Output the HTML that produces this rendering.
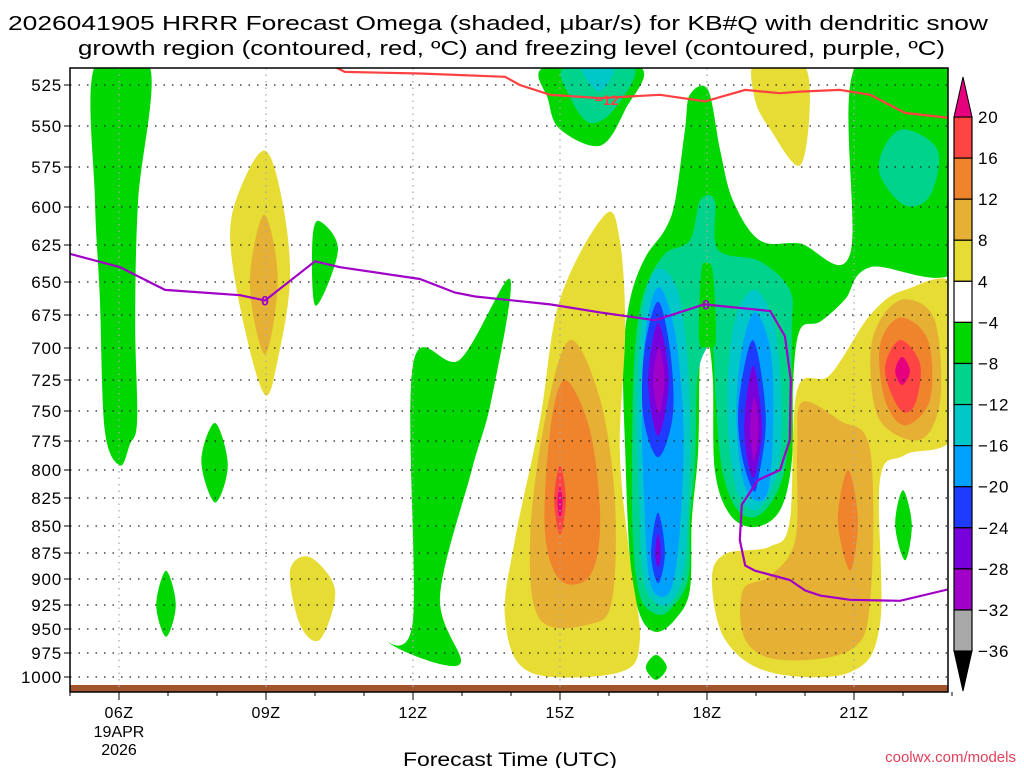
<!DOCTYPE html>
<html><head><meta charset="utf-8"><style>
html,body{margin:0;padding:0;background:#fff;}
svg{display:block;font-family:"Liberation Sans",sans-serif;}
</style></head><body>
<svg id="chart" width="1024" height="768" viewBox="0 0 1024 768" xmlns="http://www.w3.org/2000/svg">
<text x="8" y="30" font-size="20" textLength="980" lengthAdjust="spacingAndGlyphs">2026041905 HRRR Forecast Omega (shaded, μbar/s) for KB#Q with dendritic snow</text>
<text x="78" y="55" font-size="20" textLength="867" lengthAdjust="spacingAndGlyphs">growth region (contoured, red, ºC) and freezing level (contoured, purple, ºC)</text>
<defs><clipPath id="plotclip"><rect x="70" y="68" width="878" height="624"/></clipPath></defs>
<g id="fills" clip-path="url(#plotclip)"></g>
<g id="grid"></g>
<g id="lines" clip-path="url(#plotclip)"></g>
<rect x="70" y="68" width="878" height="624" fill="none" stroke="#000" stroke-width="1.5"/>
<g id="axes"></g>
<g id="cbar"></g>
<text x="403" y="766" font-size="19" textLength="214" lengthAdjust="spacingAndGlyphs">Forecast Time (UTC)</text>
<text x="1016" y="762" text-anchor="end" font-size="15" fill="#e0405a">coolwx.com/models</text>
</svg>
<script>
const NS="http://www.w3.org/2000/svg";
const pTicks=[525,550,575,600,625,650,675,700,725,750,775,800,825,850,875,900,925,950,975,1000];
const yTickPos=[85,126,167,207,245,282,315,348,380,411,441,470,498,526,553,579,605,629,653,677];
function X(h){return 119+(h-6)*49;}
function Y(p){
 if(p<=pTicks[0]) return yTickPos[0]-(pTicks[0]-p)*(41/25);
 for(let i=0;i<pTicks.length-1;i++){
  if(p<=pTicks[i+1]) return yTickPos[i]+(p-pTicks[i])/25*(yTickPos[i+1]-yTickPos[i]);
 }
 return yTickPos[yTickPos.length-1]+(p-1000)*(24/25);
}
const hTicks=[6,9,12,15,18,21];
const hTickLabels=["06Z","09Z","12Z","15Z","18Z","21Z"];
const cbLevels=["20","16","12","8","4","-4","-8","-12","-16","-20","-24","-28","-32","-36"];
const cbColors=["#ff4444","#f0842c","#e6b034","#e6dc34","#ffffff","#00d700","#00d48c","#00c8c8","#00a0ff","#1e3cff","#7800dc","#a000c8","#a8a8a8"];
const C={m:"#e6007e",r:"#ff4444",o:"#f0842c",lo:"#e6b034",y:"#e6dc34",w:"#ffffff",g:"#00d700",t:"#00d48c",c:"#00c8c8",lb:"#00a0ff",b:"#1e3cff",p:"#7800dc",pm:"#a000c8"};
const greenLeft=[[5.5,514],[6.63,514],[6.39,596],[6.33,679],[6.37,758],[6.22,778],[6.02,796],[5.71,766],[5.61,663],[5.51,596]];
const greenDiamond8=[[7.96,760],[8.22,796],[7.96,829],[7.68,792]];
const greenDiamond7=[[6.96,892],[7.16,925],[6.96,958],[6.76,925]];
const greenDiamond10=[[10.06,609],[10.47,628],[10.02,668],[9.94,628]];
const greenMid=[[13.98,648],[13.6,741],[13.2,800],[12.55,917],[12.95,987],[11.5,964],[12.0,940],[12.0,713],[12.96,709]];
const greenTop=[[14.69,514],[16.63,514],[16.33,540],[15.82,562],[15.0,552],[14.76,534]];
const tealTop=[[15.1,514],[16.5,514],[16.1,540],[15.6,548],[15.2,532]];
const cyanTop=[[15.45,514],[16.1,514],[15.8,529]];
const greenBig=[[17.65,531],[18.02,528],[18.27,565],[18.53,596],[19.08,622],[19.9,624],[20.92,631],[21.02,514],[22.92,510],[23.2,637],[21.33,640],[20.82,663],[20.31,680],[19.9,686],[19.76,725],[19.73,792],[19.49,836],[18.98,851],[18.47,840],[18.16,800],[18.12,725],[18.02,696],[17.86,709],[17.82,783],[17.69,845],[17.65,911],[17.35,940],[16.96,953],[16.63,935],[16.43,882],[16.33,783],[16.29,709],[16.43,663],[16.73,634],[17.14,615],[17.35,596],[17.55,552]];
const tealCols=[[17.86,596],[18.16,596],[18.22,628],[19.08,636],[19.69,656],[19.73,686],[19.69,758],[19.53,809],[19.08,840],[18.63,836],[18.31,800],[18.18,741],[18.12,701],[17.98,701],[17.8,725],[17.76,792],[17.65,845],[17.61,901],[17.24,930],[16.94,934],[16.63,916],[16.49,863],[16.47,783],[16.53,701],[16.73,656],[17.14,631],[17.65,622]];
const greenStrip=[[17.98,637],[18.12,644],[18.18,694],[18.02,699],[17.84,694],[17.88,644]];
const tealRight=[[22.04,552],[22.71,565],[22.55,593],[22.04,599],[21.53,580],[21.63,562]];
const cyanL=[[17.04,641],[17.45,663],[17.65,741],[17.61,845],[17.49,901],[17.14,926],[16.73,906],[16.63,845],[16.57,741],[16.73,663]];
const cyanR=[[18.98,656],[19.39,686],[19.53,758],[19.39,809],[18.98,836],[18.57,813],[18.41,741],[18.57,679]];
const lblueL=[[17.02,654],[17.35,689],[17.52,764],[17.45,851],[17.3,905],[17.06,917],[16.82,899],[16.72,829],[16.67,754],[16.75,686]];
const lblueR=[[18.98,673],[19.3,703],[19.35,764],[19.25,818],[18.98,827],[18.72,807],[18.6,754],[18.7,703]];
const blueL=[[17.0,665],[17.25,703],[17.3,754],[17.0,789],[16.7,754],[16.72,703]];
const blueL2=[[17.0,838],[17.14,875],[17.0,904],[16.86,875]];
const blueR=[[18.94,694],[19.2,754],[19.05,807],[18.94,818],[18.7,785],[18.65,743]];
const purpL=[[17.0,681],[17.22,725],[17.0,771],[16.8,725]];
const purpL2=[[17.0,857],[17.06,875],[17.0,889],[16.94,875]];
const purpR=[[18.94,714],[19.12,764],[18.94,807],[18.76,764]];
const pmL=[[17.02,699],[17.13,725],[17.02,752],[16.9,725]];
const pmR=[[18.96,739],[19.05,764],[18.96,792],[18.88,764]];
const yel09=[[8.98,565],[9.33,596],[9.49,648],[9.24,709],[8.98,737],[8.57,686],[8.27,622],[8.47,589]];
const lo09=[[8.96,605],[9.24,648],[8.98,705],[8.67,651]];
const yel10=[[9.9,879],[10.41,911],[10.1,961],[9.69,945],[9.49,892]];
const yel15=[[15.92,605],[16.22,622],[16.33,686],[16.22,783],[16.43,882],[16.63,961],[16.22,995],[14.39,995],[13.88,940],[14.08,863],[14.59,758],[15.0,663]];
const lo15=[[15.2,694],[15.82,741],[16.12,827],[16.06,921],[15.61,945],[14.59,940],[14.39,863],[14.69,758]];
const or15=[[15.1,725],[15.61,766],[15.82,845],[15.61,897],[15.0,901],[14.69,854],[14.8,766]];
const red15=[[15.0,796],[15.12,827],[15.0,858],[14.88,827]];
const mag15=[[15.0,815],[15.05,829],[15.0,844],[14.95,829]];
const yel21=[[23.1,656],[23.1,766],[22.04,787],[21.53,809],[21.53,945],[20.92,995],[19.29,995],[18.37,961],[18.1,901],[18.37,876],[19.29,869],[19.69,845],[19.84,733],[20.51,721],[21.33,675],[22.04,656]];
const lo21=[[19.94,743],[20.71,758],[21.33,783],[21.33,921],[20.92,972],[19.49,982],[18.78,961],[18.73,911],[19.29,897],[19.8,863],[19.84,783]];
const lo22=[[22.04,663],[22.65,679],[22.76,741],[22.35,774],[21.53,758],[21.33,709],[21.53,679]];
const or22=[[21.94,677],[22.51,694],[22.55,741],[22.04,762],[21.63,741],[21.53,698]];
const or21=[[20.88,800],[21.08,845],[20.92,892],[20.67,845]];
const red22=[[21.94,694],[22.35,713],[22.24,745],[21.94,749],[21.63,717]];
const mag22=[[21.98,707],[22.14,718],[21.98,729],[21.84,718]];
const yelTop=[[18.98,510],[19.9,510],[20.1,534],[19.9,574],[19.29,552],[18.98,534]];
const greenSmallR=[[22.0,818],[22.18,849],[22.04,882],[21.84,849]];
const greenSmallB=[[16.96,977],[17.18,990],[16.96,1003],[16.75,990]];
const regions=[
 ["g",greenLeft,"green-strip-06z"],["g",greenDiamond8,"green-cell-08z"],["g",greenDiamond7,"green-cell-07z"],["g",greenDiamond10,"green-cell-10z"],
 ["g",greenMid,"green-region-13z"],["g",greenTop,"green-region-top-16z"],["t",tealTop,"teal-region-top"],["c",cyanTop,"cyan-region-top"],
 ["g",greenBig,"green-region-18z"],["y",yelTop,"yellow-cell-top-19z"],
 ["t",tealCols,"teal-columns"],["g",greenStrip,"green-gap-strip"],["t",tealRight,"teal-cell-22z"],
 ["c",cyanL,"cyan-column-17z"],["c",cyanR,"cyan-column-19z"],["lb",lblueL,"lightblue-column-17z"],["lb",lblueR,"lightblue-column-19z"],
 ["b",blueL,"blue-core-17z"],["b",blueL2,"blue-core-17z-low"],["b",blueR,"blue-core-19z"],
 ["p",purpL,"purple-core-17z"],["p",purpL2,"purple-core-17z-low"],["p",purpR,"purple-core-19z"],["pm",pmL,"magenta-core-17z"],["pm",pmR,"magenta-core-19z"],
 ["y",yel09,"yellow-cell-09z"],["lo",lo09,"orange-cell-09z"],["y",yel10,"yellow-cell-10z"],
 ["y",yel15,"yellow-region-15z"],["lo",lo15,"lightorange-region-15z"],["o",or15,"orange-region-15z"],["r",red15,"red-core-15z"],["m",mag15,"max-core-15z"],
 ["y",yel21,"yellow-region-21z"],["lo",lo21,"lightorange-region-20z"],["lo",lo22,"lightorange-region-22z"],["o",or22,"orange-region-22z"],["o",or21,"orange-cell-21z"],
 ["r",red22,"red-core-22z"],["m",mag22,"max-core-22z"],["g",greenSmallR,"green-cell-22z"],["g",greenSmallB,"green-cell-17z-low"]
];
const frzHours=[5.0,6.02,6.94,8.47,8.98,10.0,10.51,12.14,12.86,13.27,14.8,15.82,16.94,17.94,19.29,19.59,19.71,19.69,19.49,19.04,18.71,18.67,18.78,18.98,19.69,20.0,20.31,20.92,21.94,22.92];
const frzPres=[631,640,656,660,664,636,640,648,658,661,667,673,679,667,672,691,725,774,800,809,831,863,887,892,901,911,916,920,921,910];
const dgzHours=[10.41,10.61,12.14,13.88,14.18,14.8,15.82,17.04,17.96,18.78,19.49,19.9,20.71,21.33,22.04,22.92];
const dgzPres=[514,517,518,520,525,531,533,531,535,528,530,529,528,531,542,545];

function smoothPath(pts){
 const n=pts.length;let d=`M${pts[0][0].toFixed(1)},${pts[0][1].toFixed(1)}`;
 for(let i=0;i<n;i++){
  const p0=pts[(i-1+n)%n],p1=pts[i],p2=pts[(i+1)%n],p3=pts[(i+2)%n];
  const c1=[p1[0]+(p2[0]-p0[0])/6,p1[1]+(p2[1]-p0[1])/6];
  const c2=[p2[0]-(p3[0]-p1[0])/6,p2[1]-(p3[1]-p1[1])/6];
  d+=`C${c1[0].toFixed(1)},${c1[1].toFixed(1)} ${c2[0].toFixed(1)},${c2[1].toFixed(1)} ${p2[0].toFixed(1)},${p2[1].toFixed(1)}`;
 }
 return d+"Z";
}
const fills=document.getElementById("fills");
regions.forEach(r=>{
 const e=document.createElementNS(NS,"path");
 e.setAttribute("d",smoothPath(r[1].map(q=>[X(q[0]),Y(q[1])])));
 e.setAttribute("fill",C[r[0]]);
 
 
 fills.appendChild(e);
});
const ground=document.createElementNS(NS,"rect");
ground.setAttribute("x",70);ground.setAttribute("y",685);ground.setAttribute("width",878);ground.setAttribute("height",7);ground.setAttribute("fill","#a0552c");


fills.appendChild(ground);

const grid=document.getElementById("grid");
pTicks.forEach(p=>{
 const l=document.createElementNS(NS,"line");
 l.setAttribute("x1",70);l.setAttribute("x2",948);l.setAttribute("y1",Y(p));l.setAttribute("y2",Y(p));
 l.setAttribute("stroke","#222");l.setAttribute("stroke-width","1.3");l.setAttribute("stroke-dasharray","1.5 7");
 
 
 grid.appendChild(l);
});
hTicks.forEach(h=>{
 const l=document.createElementNS(NS,"line");
 l.setAttribute("x1",X(h));l.setAttribute("x2",X(h));l.setAttribute("y1",68);l.setAttribute("y2",692);
 l.setAttribute("stroke","#aaa");l.setAttribute("stroke-width","1.3");l.setAttribute("stroke-dasharray","1.5 5");
 
 
 grid.appendChild(l);
});

const lines=document.getElementById("lines");
function polyline(hs,ps,color,name){
 const e=document.createElementNS(NS,"polyline");
 e.setAttribute("points",hs.map((h,i)=>X(h).toFixed(1)+","+Y(ps[i]).toFixed(1)).join(" "));
 e.setAttribute("fill","none");e.setAttribute("stroke",color);e.setAttribute("stroke-width","2.2");
 
 
 lines.appendChild(e);
}
polyline(frzHours,frzPres,"#a000c8","freezing-level-line");
polyline(dgzHours,dgzPres,"#ff4040","dgz-minus12-line");
function clabel(txt,h,p,color,name){
 const t=document.createElementNS(NS,"text");
 t.setAttribute("x",X(h));t.setAttribute("y",Y(p)+5);t.setAttribute("text-anchor","middle");t.setAttribute("font-size","14");t.setAttribute("font-weight","bold");t.setAttribute("fill",color);
 t.textContent=txt;
 
 
 lines.appendChild(t);
}
clabel("0",8.98,664,"#a000c8","freezing-label-09z");
clabel("0",17.98,667,"#a000c8","freezing-label-18z");
clabel("\u221212",15.95,534,"#ff4040","dgz-label");

const axes=document.getElementById("axes");
pTicks.forEach(p=>{
 const t=document.createElementNS(NS,"text");
 t.setAttribute("x",62);t.setAttribute("y",Y(p)+6);t.setAttribute("text-anchor","end");t.setAttribute("font-size","17");t.setAttribute("letter-spacing","0.8");
 t.textContent=p;
 
 
 axes.appendChild(t);
 const k=document.createElementNS(NS,"line");
 k.setAttribute("x1",64);k.setAttribute("x2",70);k.setAttribute("y1",Y(p));k.setAttribute("y2",Y(p));k.setAttribute("stroke","#000");
 axes.appendChild(k);
});
for(let h=5;h<=23;h++){
 const k=document.createElementNS(NS,"line");
 k.setAttribute("x1",X(h));k.setAttribute("x2",X(h));k.setAttribute("y1",692);k.setAttribute("y2",hTicks.includes(h)?700:696);k.setAttribute("stroke","#000");
 
 
 axes.appendChild(k);
}
hTicks.forEach((h,i)=>{
 const t=document.createElementNS(NS,"text");
 t.setAttribute("x",X(h));t.setAttribute("y",718);t.setAttribute("text-anchor","middle");t.setAttribute("font-size","16");t.setAttribute("letter-spacing","0.5");
 t.textContent=hTickLabels[i];
 
 
 axes.appendChild(t);
});
[["19APR",737],["2026",755]].forEach(a=>{
 const t=document.createElementNS(NS,"text");
 t.setAttribute("x",X(6));t.setAttribute("y",a[1]);t.setAttribute("text-anchor","middle");t.setAttribute("font-size","16");
 t.textContent=a[0];
 
 
 axes.appendChild(t);
});

const cb=document.getElementById("cbar");
const cbTop=117,cbStep=41.08,cbX=954,cbW=18;
cbColors.forEach((col,i)=>{
 const r=document.createElementNS(NS,"rect");
 r.setAttribute("x",cbX);r.setAttribute("y",cbTop+i*cbStep);r.setAttribute("width",cbW);r.setAttribute("height",cbStep);
 r.setAttribute("fill",col);r.setAttribute("stroke","#000");r.setAttribute("stroke-width","1.2");
 
 
 cb.appendChild(r);
});
const cbBot=cbTop+cbColors.length*cbStep;
const up=document.createElementNS(NS,"polygon");
up.setAttribute("points",`${cbX},${cbTop} ${cbX+cbW},${cbTop} ${cbX+cbW/2},${cbTop-40}`);
up.setAttribute("fill","#e6007e");up.setAttribute("stroke","#000");


cb.appendChild(up);
const dn=document.createElementNS(NS,"polygon");
dn.setAttribute("points",`${cbX},${cbBot} ${cbX+cbW},${cbBot} ${cbX+cbW/2},${cbBot+40}`);
dn.setAttribute("fill","#000");dn.setAttribute("stroke","#000");


cb.appendChild(dn);
cbLevels.forEach((lv,i)=>{
 const t=document.createElementNS(NS,"text");
 t.setAttribute("x",978);t.setAttribute("y",cbTop+i*cbStep+6);t.setAttribute("font-size","17");t.setAttribute("letter-spacing","0.8");
 t.textContent=lv.replace("-","\u2212");
 
 
 cb.appendChild(t);
});
</script>
</body></html>
